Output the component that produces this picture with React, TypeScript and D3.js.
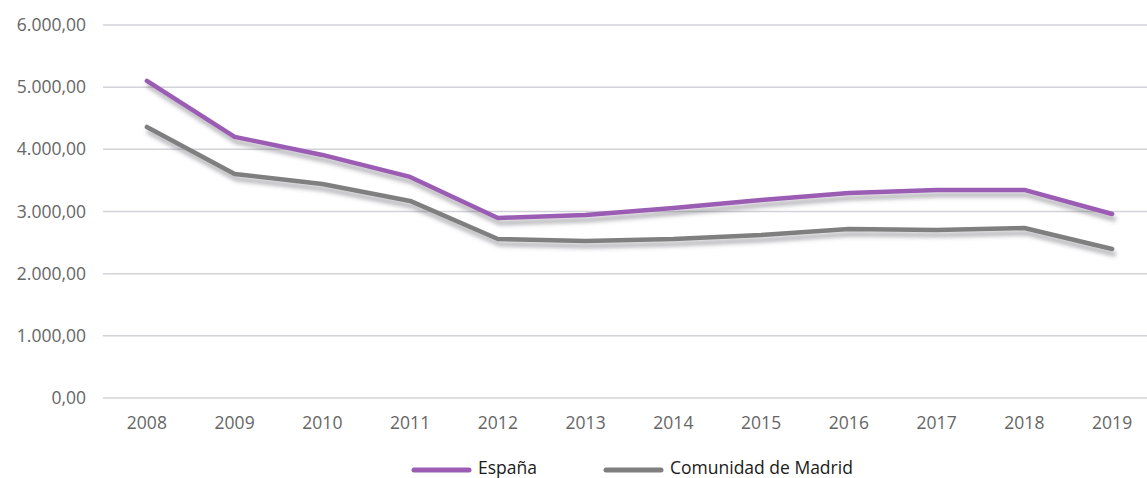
import React from 'react';
import * as d3 from 'd3';

const years = ['2008', '2009', '2010', '2011', '2012', '2013', '2014', '2015', '2016', '2017', '2018', '2019'];
const espana = [5100, 4200, 3910, 3556, 2896, 2944, 3057, 3186, 3298, 3347, 3347, 2960];
const madrid = [4360, 3604, 3443, 3170, 2558, 2526, 2558, 2622, 2719, 2703, 2735, 2397];
const yTicks = [0, 1000, 2000, 3000, 4000, 5000, 6000];
const seriesNames = ['España', 'Comunidad de Madrid'];
const seriesColors = ['#9b5cb4', '#7f7f7f'];

const W = 1147;
const H = 478;
const FONT = '"Open Sans", "DejaVu Sans", sans-serif';

const fmt = (v: number) => {
  const s = d3.format(',.2f')(v);
  return s.replace(/,/g, '#').replace('.', ',').replace(/#/g, '.');
};

export default function App() {
  const x = d3.scaleBand().domain(years).range([103, 1156]);
  const y = d3.scaleLinear().domain([0, 6000]).range([398, 25]);
  const cx = (d: string) => (x(d) as number) + x.bandwidth() / 2;

  const line = d3
    .line<number>()
    .x((d, i) => cx(years[i]))
    .y((d) => y(d));

  const series = [espana, madrid];

  return (
    <svg width={W} height={H} style={{ position: 'absolute', left: 0, top: 0 }}>
      <defs>
        <filter id="shadow" x="-10%" y="-20%" width="120%" height="160%">
          <feDropShadow dx="2" dy="5" stdDeviation="2.2" floodColor="#55555f" floodOpacity="0.45" />
        </filter>
      </defs>
      <rect width={W} height={H} fill="#fff" />
      {/* rejilla y etiquetas eje y */}
      <g>
        {yTicks.map((t) => (
          <g key={t}>
            <line x1={103} x2={W} y1={y(t)} y2={y(t)} stroke="#d2d2d8" strokeWidth={1.5} />
            <text
              x={86}
              y={y(t)}
              dy="0.35em"
              textAnchor="end"
              fontFamily={FONT}
              fontSize={17.5}
              fill="#666"
            >
              {fmt(t)}
            </text>
          </g>
        ))}
      </g>
      {/* eje x */}
      <g>
        {years.map((yr) => (
          <text
            key={yr}
            x={cx(yr)}
            y={423}
            dy="0.35em"
            textAnchor="middle"
            fontFamily={FONT}
            fontSize={17.5}
            fill="#666"
          >
            {yr}
          </text>
        ))}
      </g>
      {/* lineas */}
      {series.map((s, i) => (
        <path
          key={i}
          d={line(s) as string}
          fill="none"
          stroke={seriesColors[i]}
          strokeWidth={4.5}
          strokeLinecap="round"
          strokeLinejoin="round"
          filter="url(#shadow)"
        />
      ))}
      {/* leyenda */}
      <g>
        {seriesNames.map((n, i) => {
          const lx = i === 0 ? 414 : 606;
          return (
            <g key={n}>
              <line x1={lx} x2={lx + 55} y1={470} y2={470} stroke={seriesColors[i]} strokeWidth={5} strokeLinecap="round" />
              <text x={lx + 64} y={474} fontFamily={FONT} fontSize={17.5} fill="#1a1a1a">
                {n}
              </text>
            </g>
          );
        })}
      </g>
    </svg>
  );
}
